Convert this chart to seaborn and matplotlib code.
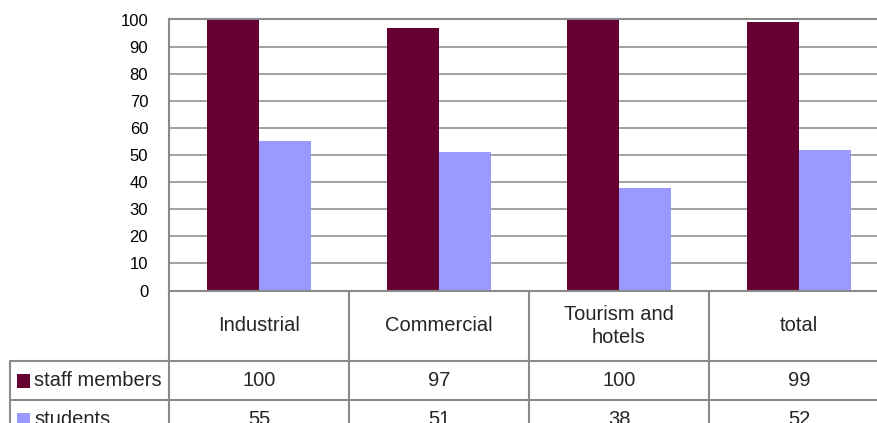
import matplotlib
matplotlib.use("Agg")
import matplotlib.pyplot as plt
from matplotlib.patches import Rectangle
import pandas as pd
import seaborn as sns

# --- data -------------------------------------------------------------
categories = ["Industrial", "Commercial", "Tourism and\nhotels", "total"]
series_names = ["staff members", "students"]
staff_members = [100, 97, 100, 99]
students = [55, 51, 38, 52]
y_ticks = list(range(0, 101, 10))

# --- style ------------------------------------------------------------
colors = {"staff members": "#660033", "students": "#9999FF"}
grid_grey = "#9a9a9a"
frame_grey = "#8a8a8a"

sns.set_style("white")
plt.rcParams["font.family"] = ["Liberation Sans", "DejaVu Sans"]

df = pd.DataFrame({
    "category": categories * len(series_names),
    "series": [series_names[0]] * len(categories) + [series_names[1]] * len(categories),
    "value": staff_members + students,
})

W, H, DPI = 877, 423, 100
fig = plt.figure(figsize=(W / DPI, H / DPI), dpi=DPI)


def px_box(left, top, right, bottom):
    """Axes rectangle from pixel edges measured from the top-left corner."""
    return [left / W, 1 - bottom / H, (right - left) / W, (bottom - top) / H]


cat_px = 180
plot_left, plot_top, plot_bottom = 169, 19.5, 290.5
plot_right = plot_left + cat_px * len(categories)
label_left = 10
row_edges = [0, 70.5, 109.5, 148.5]  # table row borders, px below the zero line
table_fs = 14.5

# --- bar chart --------------------------------------------------------
ax = fig.add_axes(px_box(plot_left, plot_top, plot_right, plot_bottom))
sns.barplot(data=df, x="category", y="value", hue="series",
            order=categories, hue_order=series_names, palette=colors,
            width=104 / 180, saturation=1, linewidth=0, legend=False, ax=ax)
ax.set_xlim(-0.5, len(categories) - 0.5)
ax.set_ylim(0, 100)
ax.set_yticks(y_ticks)
ax.set_xticks([])
ax.set_xlabel("")
ax.set_ylabel("")
ax.set_axisbelow(True)
ax.yaxis.grid(True, color=grid_grey, linewidth=1.3)
ax.tick_params(axis="y", length=0, pad=15, labelsize=12, labelcolor="black")
for side in ["right", "bottom"]:
    ax.spines[side].set_visible(False)
for side in ["left", "top"]:
    ax.spines[side].set_color(frame_grey)
    ax.spines[side].set_linewidth(1.5)

# --- data table underneath ---------------------------------------------
label_units = (plot_left - label_left) / cat_px
tab = fig.add_axes(px_box(label_left, plot_bottom, plot_right, plot_bottom + row_edges[-1]))
tab.set_xlim(-0.5 - label_units, len(categories) - 0.5)
tab.set_ylim(row_edges[-1], 0)
tab.axis("off")


def px_to_x(px):
    return -0.5 + (px - plot_left) / cat_px


line_kw = dict(color=frame_grey, linewidth=1.5, clip_on=False)
x_left, x_axis, x_right = -0.5 - label_units, -0.5, len(categories) - 0.5
tab.plot([x_axis, x_right], [0, 0], **line_kw)
for y in row_edges[1:3]:
    tab.plot([x_left, x_right], [y, y], **line_kw)
tab.plot([x_axis, x_axis], [0, row_edges[-1]], **line_kw)
for i in range(len(categories)):
    tab.plot([i + 0.5, i + 0.5], [0, row_edges[-1]], **line_kw)
tab.plot([x_left, x_left], [row_edges[1], row_edges[-1]], **line_kw)

header_mid = (row_edges[0] + row_edges[1]) / 2
for i, cat in enumerate(categories):
    tab.text(i, header_mid, cat, ha="center", va="center",
             fontsize=table_fs, linespacing=1.3)

rows = [staff_members, students]
sq = 13.5 / cat_px
for r, (name, vals) in enumerate(zip(series_names, rows)):
    mid = (row_edges[r + 1] + row_edges[r + 2]) / 2
    for i, v in enumerate(vals):
        tab.text(i, mid, f"{v}", ha="center", va="center", fontsize=table_fs)
    tab.add_patch(Rectangle((px_to_x(17), mid - 6.5), sq, 13.5,
                            facecolor=colors[name], edgecolor="none"))
    tab.text(px_to_x(34), mid, name, ha="left", va="center", fontsize=table_fs)

fig.savefig("out.png", dpi=DPI)
